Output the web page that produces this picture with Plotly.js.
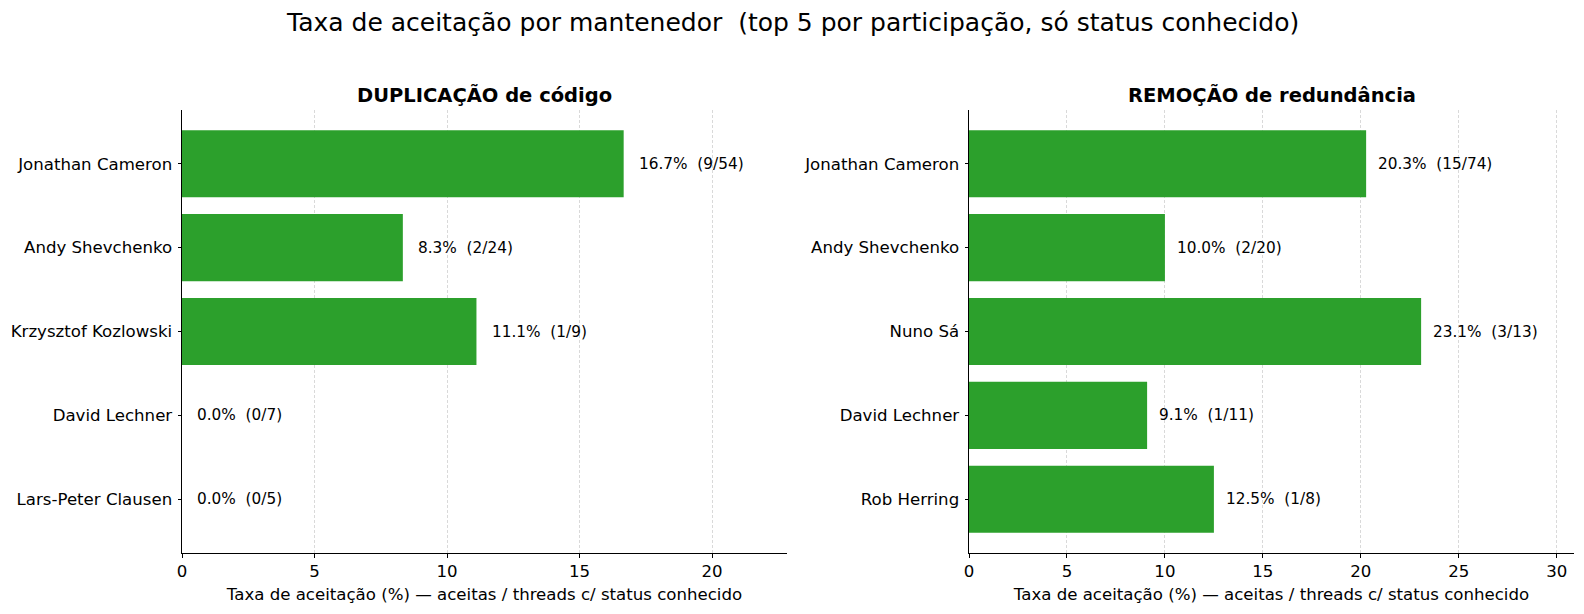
<!DOCTYPE html>
<html>
<head>
<meta charset="utf-8">
<script src="https://cdn.plot.ly/plotly-3.0.1.min.js"></script>
<style>html,body{margin:0;padding:0;background:#fff;overflow:hidden}#chart{width:1584px;height:614px}</style>
</head>
<body>
<div id="chart"></div>
<script>
// Duplicação de código
var dupNames = ['Jonathan Cameron', 'Andy Shevchenko', 'Krzysztof Kozlowski', 'David Lechner', 'Lars-Peter Clausen'];
var dupAccepted = [9, 2, 1, 0, 0];
var dupTotal = [54, 24, 9, 7, 5];

// Remoção de redundância
var remNames = ['Jonathan Cameron', 'Andy Shevchenko', 'Nuno Sá', 'David Lechner', 'Rob Herring'];
var remAccepted = [15, 2, 3, 1, 1];
var remTotal = [74, 20, 13, 11, 8];

var xTicks = [0, 5, 10, 15, 20, 25, 30];

var green = '#2ca02c';
var font = 'DejaVu Sans, sans-serif';

function rates(acc, tot) {
  return acc.map(function(a, i) { return 100 * a / tot[i]; });
}
var dupRate = rates(dupAccepted, dupTotal);
var remRate = rates(remAccepted, remTotal);

var data = [
  {type: 'bar', orientation: 'h', x: dupRate, y: dupNames, marker: {color: green}, width: 0.8,
   xaxis: 'x', yaxis: 'y', hoverinfo: 'none'},
  {type: 'bar', orientation: 'h', x: remRate, y: remNames, marker: {color: green}, width: 0.8,
   xaxis: 'x2', yaxis: 'y2', hoverinfo: 'none'}
];

var annotations = [];
function labels(rate, acc, tot, xref, yref, names) {
  for (let i = 0; i < rate.length; i++) {
    annotations.push({
      x: rate[i] + 0.5, y: names[i], xref: xref, yref: yref,
      text: rate[i].toFixed(1) + '%\u00a0\u00a0(' + acc[i] + '/' + tot[i] + ')',
      showarrow: false, xanchor: 'left', yanchor: 'middle',
      font: {family: font, size: 15.3, color: '#000'}
    });
  }
}
labels(dupRate, dupAccepted, dupTotal, 'x', 'y', dupNames);
labels(remRate, remAccepted, remTotal, 'x2', 'y2', remNames);

annotations.push({
  text: 'Taxa de aceitação por mantenedor\u00a0\u00a0(top 5 por participação, só status conhecido)',
  xref: 'paper', yref: 'paper', x: 0.5, y: 1 - 22.5/614, xanchor: 'center', yanchor: 'middle',
  showarrow: false, font: {family: font, size: 25, color: '#000'}
});
annotations.push({
  text: '<b>DUPLICAÇÃO de código</b>', xref: 'paper', yref: 'paper',
  x: 484.5/1584, y: 1 - 95/614, xanchor: 'center', yanchor: 'middle',
  showarrow: false, font: {family: font, size: 19.5, color: '#000'}
});
annotations.push({
  text: '<b>REMOÇÃO de redundância</b>', xref: 'paper', yref: 'paper',
  x: 1271.5/1584, y: 1 - 95/614, xanchor: 'center', yanchor: 'middle',
  showarrow: false, font: {family: font, size: 19.5, color: '#000'}
});

var xTitle = 'Taxa de aceitação (%) — aceitas / threads c/ status conhecido';

function xaxis(domain, range) {
  return {
    domain: domain, range: range, tickvals: xTicks, ticks: 'outside', ticklen: 3.5,
    tickcolor: '#000', showline: true, linecolor: '#000', linewidth: 1,
    showgrid: true, gridcolor: '#d9d9d9', griddash: '3px,2px', gridwidth: 1, zeroline: false,
    tickfont: {family: font, size: 16.6, color: '#000'},
    title: {text: xTitle, font: {family: font, size: 16.6, color: '#000'}, standoff: 7},
    fixedrange: true
  };
}
function yaxis(domain, names, anchor) {
  return {
    domain: domain, anchor: anchor, type: 'category', categoryarray: names,
    range: [4.64, -0.64], ticks: 'outside', ticklen: 3.5, tickcolor: '#000', ticklabelstandoff: 2,
    showline: true, linecolor: '#000', linewidth: 1, showgrid: false, zeroline: false,
    tickfont: {family: font, size: 16.6, color: '#000'}, fixedrange: true
  };
}

var yDom = [1 - 553/614, 1 - 110/614];
var layout = {
  width: 1584, height: 614,
  margin: {l: 0, r: 0, t: 0, b: 0},
  paper_bgcolor: '#fff', plot_bgcolor: '#fff',
  showlegend: false,
  xaxis: xaxis([182/1584, 787/1584], [0, 22.83]),
  yaxis: yaxis(yDom, dupNames, 'x'),
  xaxis2: xaxis([969/1584, 1574/1584], [0, 30.88]),
  yaxis2: yaxis(yDom, remNames, 'x2'),
  annotations: annotations,
  bargap: 0.2
};
layout.xaxis.anchor = 'y';
layout.xaxis2.anchor = 'y2';

Plotly.newPlot('chart', data, layout, {staticPlot: true});
</script>
</body>
</html>
